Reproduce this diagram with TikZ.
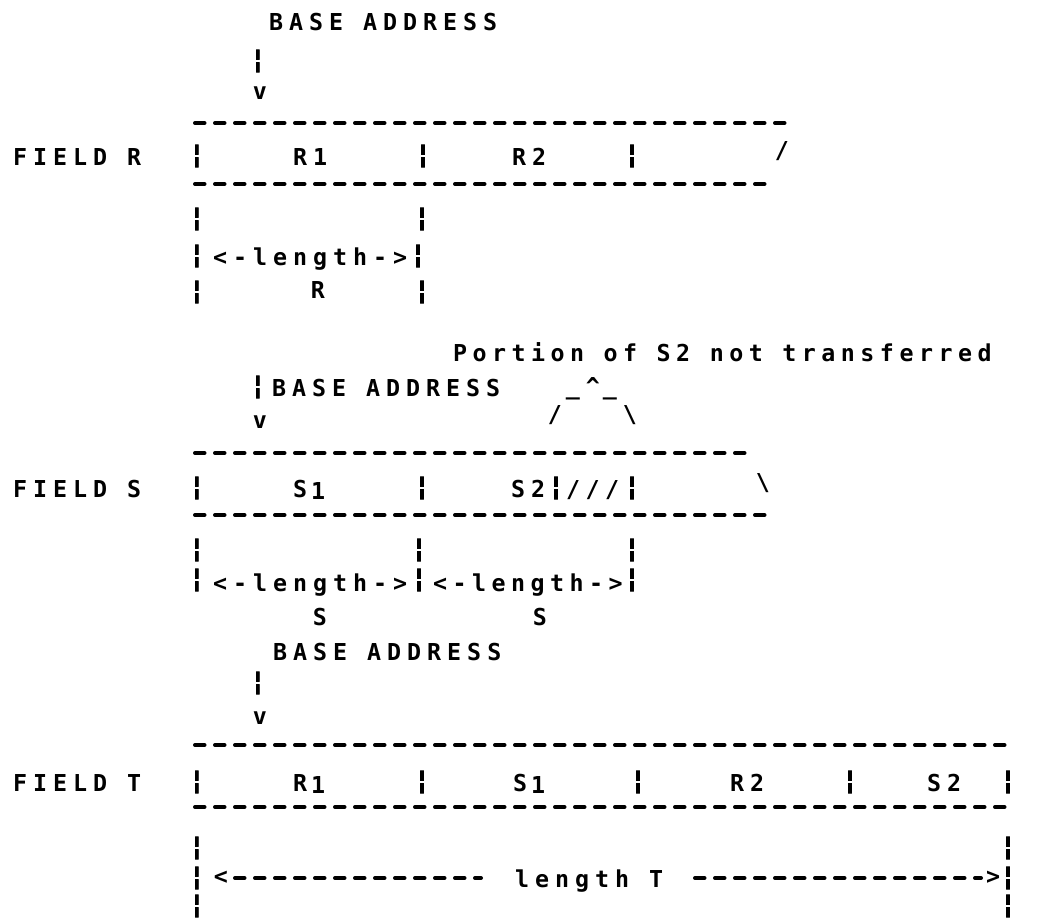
\documentclass[tikz,border=0pt]{standalone}
\usepackage{fontspec}
\usepackage{graphicx}
\newfontfamily\plotfamA[LetterSpace=25.75]{DejaVu Sans Mono}
\newfontfamily\plotfamB[LetterSpace=23.6]{DejaVu Sans Mono}
\newfontfamily\plotfamC{DejaVu Sans Mono}
\newfontfamily\plotfamD[FakeBold=4]{DejaVu Sans Mono}
\newcommand\plotA{\plotfamA\bfseries\fontsize{23.3pt}{28pt}\selectfont\spaceskip=20pt\relax}
\newcommand\plotB{\plotfamB\bfseries\fontsize{23.3pt}{28pt}\selectfont\spaceskip=19.5pt\relax}
\newcommand\plotC{\plotfamC\bfseries\fontsize{23.3pt}{28pt}\selectfont}
\newcommand\low[1]{\hspace{4pt}\raisebox{-2pt}{#1}}
\newcommand\brk{{\plotfamD\bfseries\fontsize{23.3pt}{28pt}\selectfont\scalebox{1.0}[1.1]{¦}}}
\newcommand\trim{\hspace{-6pt}}
\begin{document}
\begin{tikzpicture}[x=1pt,y=-1pt,
  tw/.style={inner sep=0pt, outer sep=0pt, font=\plotA, anchor=base west},
  twn/.style={inner sep=0pt, outer sep=0pt, font=\plotB, anchor=base west},
  gl/.style={inner sep=0pt, outer sep=0pt, font=\plotC, anchor=center},
  dashrow/.style={line width=4pt, line cap=round, dash pattern=on 9.5pt off 10.5pt}]
\fill[white] (0,0) rectangle (1040,918);
\useasboundingbox (0,0) rectangle (1040,918);

% ---------------- FIELD R ----------------
\node[tw] (baR) at (269,30) {BASE ADDRESS};
\node[gl] (pR) at (258,61) {\brk};
\node[gl] (vR) at (260,93) {v};
\draw[dashrow] (195,123) -- (785,123);
\node[tw] (fR) at (13,165) {FIELD R};
\node[gl] (rA) at (197,156) {\brk};
\node[gl] (rB) at (423,156) {\brk};
\node[gl] (rC) at (632,156) {\brk};
\node[tw] (r1) at (293,165) {R1};
\node[tw] (r2) at (512,165) {R2};
\node[gl] (rS) at (782,151) {/};
\draw[dashrow] (195,184) -- (766,184);
\node[gl] (rD) at (197,219) {\brk};
\node[gl] (rE) at (422,219) {\brk};
\node[gl] (rF) at (197,256) {\brk};
\node[tw] (lenR) at (213,265) {<-length->\trim};
\node[gl] (rG) at (418,256) {\brk};
\node[gl] (rH) at (197,292) {\brk};
\node[gl] (rR) at (318,290) {R};
\node[gl] (rI) at (422,292) {\brk};

% ---------------- FIELD S ----------------
\node[twn] (por) at (453,361) {Portion of S2 not transferred};
\node[gl] (pS) at (258,387) {\brk};
\node[tw] (baS) at (272,396) {BASE ADDRESS};
\node[gl] (u1) at (573,397) {\_};
\node[gl] (cr) at (593,386) {\^{}};
\node[gl] (u2) at (610,397) {\_};
\node[gl] (vS) at (260,422) {v};
\node[gl] (sl2) at (555,415) {/};
\node[gl] (bs2) at (630,415) {\textbackslash};
\draw[dashrow] (195,453) -- (748,453);
\node[tw] (fS) at (13,497) {FIELD S};
\node[gl] (sA) at (197,488) {\brk};
\node[tw] (s1) at (293,497) {S\low{1}};
\node[gl] (sB) at (422,488) {\brk};
\node[tw] (s2) at (511,497) {S2\trim};
\node[gl] (sC) at (556,488) {\brk};
\node[twn] (hat) at (566,497) {///\trim};
\node[gl] (sD) at (632,488) {\brk};
\node[gl] (bs3) at (763,483) {\textbackslash};
\draw[dashrow] (195,515) -- (766,515);
\node[gl] (sE) at (197,550) {\brk};
\node[gl] (sF) at (419,550) {\brk};
\node[gl] (sG) at (632,550) {\brk};
\node[gl] (sH) at (197,580) {\brk};
\node[tw] (lenS1) at (213,591) {<-length->\trim};
\node[gl] (sI) at (419,580) {\brk};
\node[twn] (lenS2) at (433,591) {<-length->\trim};
\node[gl] (sJ) at (632,580) {\brk};
\node[gl] (sK) at (320,617) {S};
\node[gl] (sL) at (540,617) {S};

% ---------------- FIELD T ----------------
\node[tw] (baT) at (273,660) {BASE ADDRESS};
\node[gl] (pT) at (258,683) {\brk};
\node[gl] (vT) at (260,718) {v};
\draw[dashrow] (195,745) -- (1010,745);
\node[tw] (fT) at (13,791) {FIELD T};
\node[gl] (tA) at (197,782) {\brk};
\node[tw] (t1) at (293,791) {R\low{1}};
\node[gl] (tB) at (422,782) {\brk};
\node[tw] (t2) at (513,791) {S\low{1}};
\node[gl] (tC) at (638,782) {\brk};
\node[tw] (t3) at (730,791) {R2};
\node[gl] (tD) at (850,782) {\brk};
\node[tw] (t4) at (927,791) {S2};
\node[gl] (tE) at (1008,782) {\brk};
\draw[dashrow] (195,807) -- (1010,807);
\node[gl] (tF) at (197,848) {\brk};
\node[gl] (tG) at (1008,848) {\brk};
\node[gl] (tH) at (197,878) {\brk};
\node[gl] (lt) at (221,878) {<};
\draw[dashrow] (235,878) -- (481,878);
\node[tw] (lenT) at (515,887) {length T};
\draw[dashrow] (695,878) -- (981,878);
\node[gl] (gt) at (993,878) {>};
\node[gl] (tI) at (1008,878) {\brk};
\node[gl] (tJ) at (197,906) {\brk};
\node[gl] (tK) at (1008,906) {\brk};
\end{tikzpicture}
\end{document}
